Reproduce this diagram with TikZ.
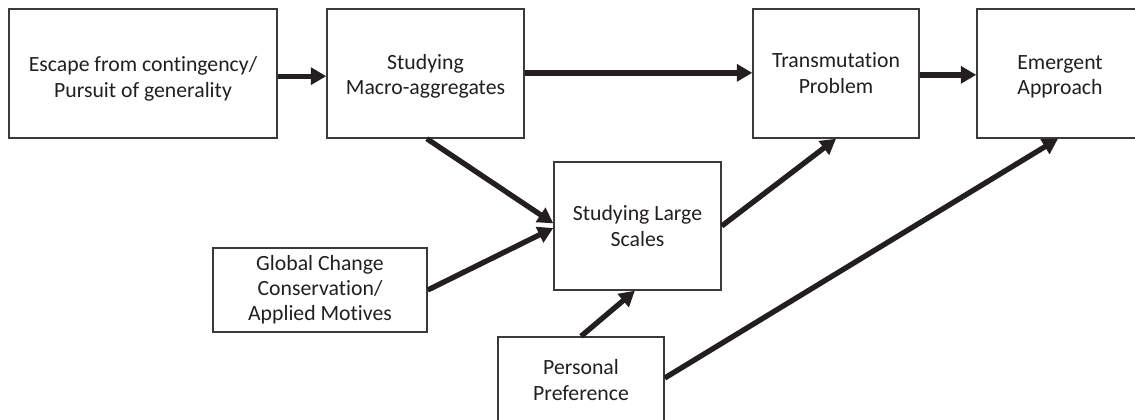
\documentclass[tikz,border=0pt]{standalone}
\usepackage{fontspec}
\setmainfont{Carlito}[Ligatures={NoCommon}]
\usetikzlibrary{arrows.meta}
\definecolor{ink}{HTML}{231F20}
\definecolor{edge}{HTML}{3A3A3A}
\newcommand\dropit[2]{\raisebox{-#1}[\height][\depth]{\begin{tabular}{@{}c@{}}#2\end{tabular}}}
\begin{document}
\begin{tikzpicture}[x=0.75pt,y=-0.75pt,
  box/.style={draw=edge,line width=1.1pt,fill=white,align=center,inner sep=0pt,
    font=\fontsize{16.3}{18.8}\selectfont,text=ink},
  flow/.style={draw=ink,line width=4pt,-{Triangle[length=11.5pt,width=12.5pt]}}]
\useasboundingbox (0,0) rectangle (1135,419);
\node[box,minimum width=268*0.75pt,minimum height=129*0.75pt] (A) at (143,73.5)
  {\dropit{4.5pt}{Escape from contingency/\\Pursuit of generality}};
\node[box,minimum width=197*0.75pt,minimum height=129*0.75pt] (B) at (425.5,73.5)
  {\dropit{2.5pt}{Studying\\Macro-aggregates}};
\node[box,minimum width=166*0.75pt,minimum height=129*0.75pt] (C) at (836,73.5)
  {\dropit{1.5pt}{Transmutation\\Problem}};
\node[box,minimum width=166*0.75pt,minimum height=129*0.75pt] (D) at (1060,73.5)
  {\dropit{2.5pt}{Emergent\\Approach}};
\node[box,minimum width=167*0.75pt,minimum height=128*0.75pt] (E) at (637.5,226)
  {Studying Large\\Scales};
\node[box,minimum width=214*0.75pt,minimum height=84*0.75pt] (F) at (320,290)
  {Global Change\\Conservation/\\Applied Motives};
\node[box,minimum width=166*0.75pt,minimum height=86*0.75pt] (G) at (581,380)
  {Personal\\Preference};
\draw[flow] ([yshift=-2pt]A.east) -- ([yshift=-2pt]B.west);
\draw[flow] ([yshift=0.5pt]B.east) -- ([yshift=0.5pt]C.west);
\draw[flow] ([yshift=-1pt]C.east) -- ([yshift=-1pt]D.west);
\draw[flow] ([xshift=1pt]B.south) -- ([yshift=2pt]E.west);
\draw[flow] (F.east) -- ([yshift=-1.5pt]E.west);
\draw[flow] (E.east) -- (C.south);
\draw[flow] (G.north) -- ([xshift=-2pt]E.south);
\draw[flow] ([yshift=1.5pt]G.east) -- ([xshift=-1.5pt]D.south);
\end{tikzpicture}
\end{document}
